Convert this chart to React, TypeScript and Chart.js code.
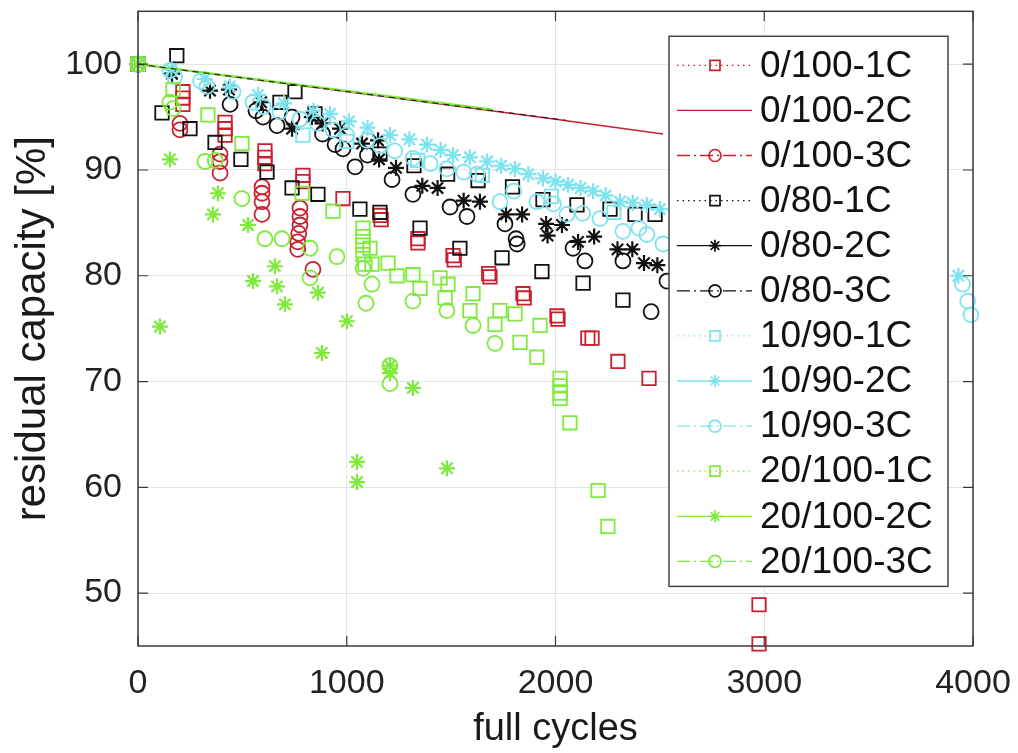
import React, { useEffect, useRef } from 'react';
import { Chart, registerables } from 'chart.js';

Chart.register(...registerables);

// ---------- data (cycles, residual capacity %) ----------
const xTicks = [0, 1000, 2000, 3000, 4000];
const yTicks = [50, 60, 70, 80, 90, 100];

const seriesLabels = [
  '0/100-1C', '0/100-2C', '0/100-3C',
  '0/80-1C', '0/80-2C', '0/80-3C',
  '10/90-1C', '10/90-2C', '10/90-3C',
  '20/100-1C', '20/100-2C', '20/100-3C',
];

const red1C = [[0,100],[215,97.4],[215,96.8],[215,96.2],[417,94.5],[417,93.9],[417,93.3],[608,91.8],[608,91.2],[608,90.6],[790,89.5],[790,88.9],[982,87.3],[1160,85.7],[1165,85.3],[1341,83.5],[1341,83.1],[1509,81.9],[1515,81.5],[1680,80.2],[1686,79.9],[1844,78.3],[1850,77.9],[2007,76.2],[2012,75.9],[2155,74.1],[2175,74.1],[2299,71.9],[2448,70.3],[2975,48.9],[2975,45.2]];
const red2C = [[0,100],[1159,97.0],[2000,94.8],[2515,93.4]];
const red3C = [[0,100],[201,94.4],[201,93.8],[393,91.5],[393,90.8],[393,89.7],[594,88.4],[594,87.8],[594,87.0],[594,85.8],[776,86.4],[776,85.6],[776,84.8],[770,84.0],[765,83.2],[765,82.5],[838,80.6]];

const black1C = [[0,100],[115,95.4],[186,100.8],[249,93.9],[369,92.6],[493,91.0],[618,89.8],[680,96.4],[738,88.3],[752,97.4],[848,95.3],[862,87.7],[1063,86.3],[1159,86.0],[1159,91.5],[1322,90.4],[1351,84.5],[1483,89.6],[1542,82.6],[1629,89.0],[1744,81.7],[1794,88.4],[1935,80.4],[1940,87.2],[2103,86.7],[2132,79.3],[2261,86.3],[2323,77.7],[2381,85.8],[2477,85.8]];
const black2C = [[0,100],[163,99.1],[345,97.5],[436,97.6],[590,96.4],[738,93.9],[833,95.0],[884,94.4],[968,93.9],[1073,92.5],[1150,92.8],[1155,91.0],[1236,90.2],[1362,88.5],[1435,88.3],[1560,87.1],[1638,87.0],[1763,85.8],[1840,85.8],[1955,84.9],[1962,83.8],[2031,84.8],[2108,83.2],[2185,83.7],[2297,82.5],[2368,82.5],[2424,81.2],[2488,81.0]];
const black3C = [[0,100],[441,96.2],[565,95.6],[599,95.0],[666,94.2],[738,95.0],[884,93.4],[944,92.4],[982,92.0],[1040,90.3],[1099,91.4],[1217,89.1],[1317,87.7],[1495,86.5],[1576,85.6],[1758,84.9],[1811,83.5],[1816,83.0],[2084,82.6],[2141,81.4],[2323,81.4],[2458,76.6],[2534,79.5]];

const cyan1C = [[0,100],[790,93.3],[1000,92.7],[1340,90.9],[1650,89.5],[1980,87.5],[2280,86.0]];
const cyan2C = [[0,100],[160,99.5],[320,98.6],[440,97.9],[575,97.1],[700,96.3],[840,95.6],[920,95.3],[1010,94.6],[1100,94.0],[1207,93.3],[1300,92.9],[1384,92.4],[1450,91.9],[1509,91.4],[1590,91.2],[1672,90.8],[1740,90.4],[1806,90.1],[1870,89.6],[1940,89.2],[2000,88.9],[2060,88.6],[2120,88.3],[2180,88.0],[2240,87.6],[2309,87.0],[2370,86.9],[2438,86.7],[2500,86.3],[3930,80.0]];
const cyan3C = [[0,100],[153,99.4],[175,98.8],[300,98.4],[330,97.9],[455,97.4],[551,96.4],[600,96.0],[680,95.5],[776,94.8],[860,94.4],[934,93.8],[1000,93.3],[1097,92.8],[1160,92.3],[1230,91.8],[1317,91.1],[1400,90.6],[1480,90.1],[1560,89.8],[1624,89.6],[1734,87.0],[1800,88.0],[1911,87.0],[1990,86.8],[2055,85.8],[2130,85.9],[2213,85.4],[2323,84.2],[2400,84.5],[2438,83.9],[2515,83.0],[3950,79.2],[3975,77.6],[3990,76.3]];

const green1C = [[0,100],[168,97.6],[335,95.2],[498,92.5],[786,87.8],[934,86.1],[1078,84.5],[1078,83.7],[1078,82.9],[1078,82.0],[1111,82.6],[1087,81.1],[1121,81.1],[1198,81.2],[1241,80.0],[1317,80.1],[1351,78.8],[1447,79.8],[1485,79.2],[1471,77.9],[1605,78.3],[1590,76.7],[1734,76.7],[1710,75.4],[1806,76.4],[1926,75.3],[1830,73.7],[1911,72.3],[2022,70.3],[2022,69.6],[2022,68.9],[2022,68.4],[2069,66.1],[2204,59.7],[2251,56.3]];
const green2C = [[0,100],[105,75.2],[153,91.0],[359,85.8],[383,87.8],[527,84.8],[551,79.5],[656,80.9],[666,79.0],[704,77.3],[862,78.4],[881,72.7],[1001,75.7],[1049,62.4],[1049,60.5],[1207,71.5],[1207,70.8],[1317,69.4],[1480,61.8]];
const green3C = [[0,100],[153,96.4],[168,95.8],[321,90.8],[370,90.9],[498,87.3],[608,83.5],[690,83.5],[824,82.6],[824,79.8],[953,81.8],[1078,80.7],[1121,79.2],[1092,77.4],[1207,71.5],[1207,69.8],[1317,77.6],[1480,76.7],[1605,75.3],[1710,73.6]];

// overlapping fit lines near the top
const lineBlack = [[0,100],[2050,94.7]];
const lineGreen = [[0,100],[1700,95.7]];

// ---------- styles ----------
const RED = '#c9202f';
const BLACK = '#111111';
const CYAN = '#7de3ee';
const GREEN = '#7eea3c';
const FONT = '"Liberation Sans", Arial, Helvetica, sans-serif';

const toPts = (arr: number[][]) => arr.map(([x, y]) => ({ x, y }));

type Kind = 'dot' | 'solid' | 'dashdot';

function makeSeries(label: string, data: number[][], color: string, style: string | false, kind: Kind, idx: number) {
  const r = style === 'rect' ? 9.5 : style === 'star' ? 8 : 7.5;
  return {
    label,
    data: toPts(data),
    showLine: style === false,
    borderColor: color,
    borderWidth: style === false ? 1.6 : 0,
    backgroundColor: 'rgba(0,0,0,0)',
    pointStyle: style === false ? 'circle' : style,
    pointRadius: style === false ? 0 : r,
    pointBorderWidth: style === 'star' ? 2.2 : 1.8,
    pointBorderColor: color,
    pointBackgroundColor: 'rgba(0,0,0,0)',
    clip: false,
    order: 20 - idx,
    legendKind: kind,
    legendStyle: style,
    inLegend: true,
  };
}

const boxPlugin = {
  id: 'matlabBox',
  afterDatasetsDraw(chart: any) {
    const { ctx, chartArea: a, scales } = chart;
    ctx.save();
    ctx.strokeStyle = '#3a3a3a';
    ctx.lineWidth = 1.5;
    ctx.strokeRect(a.left, a.top, a.right - a.left, a.bottom - a.top);
    const tl = 10;
    ctx.lineWidth = 1.2;
    ctx.beginPath();
    xTicks.forEach((v) => {
      const px = scales.x.getPixelForValue(v);
      ctx.moveTo(px, a.bottom); ctx.lineTo(px, a.bottom - tl);
      ctx.moveTo(px, a.top); ctx.lineTo(px, a.top + tl);
    });
    yTicks.forEach((v) => {
      const py = scales.y.getPixelForValue(v);
      ctx.moveTo(a.left, py); ctx.lineTo(a.left + tl, py);
      ctx.moveTo(a.right, py); ctx.lineTo(a.right - tl, py);
    });
    ctx.stroke();
    ctx.restore();
  },
};

function drawMarker(ctx: CanvasRenderingContext2D, style: string | false, x: number, y: number, r: number) {
  if (!style) return;
  ctx.beginPath();
  if (style === 'rect') {
    ctx.rect(x - r, y - r, 2 * r, 2 * r);
  } else if (style === 'circle') {
    ctx.arc(x, y, r, 0, Math.PI * 2);
  } else {
    for (let k = 0; k < 4; k++) {
      const ang = (k * Math.PI) / 4;
      ctx.moveTo(x - r * Math.cos(ang), y - r * Math.sin(ang));
      ctx.lineTo(x + r * Math.cos(ang), y + r * Math.sin(ang));
    }
  }
  ctx.stroke();
}

const legendPlugin = {
  id: 'matlabLegend',
  afterDraw(chart: any) {
    const { ctx, chartArea: a } = chart;
    const items = chart.data.datasets.filter((d: any) => d.inLegend);
    const left = a.left + 531;
    const top = a.top + 25;
    const right = a.right - 25;
    const rowH = 45.1;
    const bottom = top + 29 + rowH * (items.length - 1) + 25;
    ctx.save();
    ctx.fillStyle = '#ffffff';
    ctx.fillRect(left, top, right - left, bottom - top);
    ctx.strokeStyle = '#444';
    ctx.lineWidth = 1.5;
    ctx.strokeRect(left, top, right - left, bottom - top);
    items.forEach((d: any, i: number) => {
      const cy = top + 29 + i * rowH;
      const x0 = left + 8;
      const x1 = left + 83;
      const mx = left + 46;
      ctx.strokeStyle = d.borderColor;
      ctx.lineWidth = 1.3;
      if (d.legendKind === 'dot') ctx.setLineDash([1.5, 4]);
      else if (d.legendKind === 'dashdot') ctx.setLineDash([13, 4, 2, 4]);
      else ctx.setLineDash([]);
      ctx.beginPath();
      ctx.moveTo(x0, cy);
      ctx.lineTo(x1, cy);
      ctx.stroke();
      ctx.setLineDash([]);
      ctx.lineWidth = 1.7;
      drawMarker(ctx, d.legendStyle, mx, cy, d.legendStyle === 'rect' ? 5 : 6);
      ctx.fillStyle = '#111';
      ctx.font = `37px ${FONT}`;
      ctx.textBaseline = 'middle';
      ctx.textAlign = 'left';
      ctx.fillText(d.label, left + 91, cy + 1);
    });
    ctx.restore();
  },
};

export default function App() {
  const ref = useRef<HTMLCanvasElement | null>(null);

  useEffect(() => {
    if (!ref.current) return;
    const datasets: any[] = [
      makeSeries(seriesLabels[0], red1C, RED, 'rect', 'dot', 0),
      makeSeries(seriesLabels[1], red2C, RED, false, 'solid', 1),
      makeSeries(seriesLabels[2], red3C, RED, 'circle', 'dashdot', 2),
      makeSeries(seriesLabels[3], black1C, BLACK, 'rect', 'dot', 3),
      makeSeries(seriesLabels[4], black2C, BLACK, 'star', 'solid', 4),
      makeSeries(seriesLabels[5], black3C, BLACK, 'circle', 'dashdot', 5),
      makeSeries(seriesLabels[6], cyan1C, CYAN, 'rect', 'dot', 6),
      makeSeries(seriesLabels[7], cyan2C, CYAN, 'star', 'solid', 7),
      makeSeries(seriesLabels[8], cyan3C, CYAN, 'circle', 'dashdot', 8),
      makeSeries(seriesLabels[9], green1C, GREEN, 'rect', 'dot', 9),
      makeSeries(seriesLabels[10], green2C, GREEN, 'star', 'solid', 10),
      makeSeries(seriesLabels[11], green3C, GREEN, 'circle', 'dashdot', 11),
      {
        label: 'fit-green', data: toPts(lineGreen), showLine: true, borderColor: GREEN, borderWidth: 2.2,
        pointRadius: 0, clip: false, order: 3,
      },
      {
        label: 'fit-black', data: toPts(lineBlack), showLine: true, borderColor: BLACK, borderWidth: 1,
        borderDash: [6, 5], pointRadius: 0, clip: false, order: 2,
      },
    ];

    const chart = new Chart(ref.current, {
      type: 'scatter',
      data: { datasets },
      options: {
        animation: false,
        responsive: false,
        devicePixelRatio: 1,
        layout: { padding: { top: 8, right: 45, left: 0, bottom: 0 } },
        plugins: { legend: { display: false }, tooltip: { enabled: false } },
        scales: {
          x: {
            type: 'linear',
            min: 0,
            max: 4000,
            afterBuildTicks: (s: any) => { s.ticks = xTicks.map((v) => ({ value: v })); },
            afterFit: (s: any) => { s.height = 107; s.paddingLeft = 0; s.paddingRight = 0; },
            ticks: {
              font: { family: FONT, size: 34 }, color: '#222', padding: 17, maxRotation: 0, autoSkip: false,
              callback: (v: any) => String(v),
            },
            grid: { color: '#e4e4e4', lineWidth: 1, drawTicks: false },
            border: { display: false },
            title: {
              display: true, text: 'full cycles', color: '#1a1a1a',
              font: { family: FONT, size: 38, lineHeight: 1 }, padding: { top: 0, bottom: 4 },
            },
          },
          y: {
            type: 'linear',
            min: 45,
            max: 105,
            afterBuildTicks: (s: any) => { s.ticks = yTicks.map((v) => ({ value: v })); },
            afterFit: (s: any) => { s.width = 138; s.paddingTop = 0; s.paddingBottom = 0; },
            ticks: {
              font: { family: FONT, size: 34 }, color: '#222', padding: 16,
              callback: (v: any) => String(v),
            },
            grid: { color: '#e4e4e4', lineWidth: 1, drawTicks: false },
            border: { display: false },
            title: {
              display: true, text: 'residual capacity [%]', color: '#1a1a1a',
              font: { family: FONT, size: 42, lineHeight: 1 }, padding: { top: 12, bottom: 0 },
            },
          },
        },
      } as any,
      plugins: [boxPlugin, legendPlugin],
    });
    return () => chart.destroy();
  }, []);

  return (
    <div style={{ position: 'fixed', left: 0, top: 0, width: 1018, height: 753, background: '#fff' }}>
      <canvas ref={ref} width={1018} height={753} style={{ width: 1018, height: 753, display: 'block' }} />
    </div>
  );
}
